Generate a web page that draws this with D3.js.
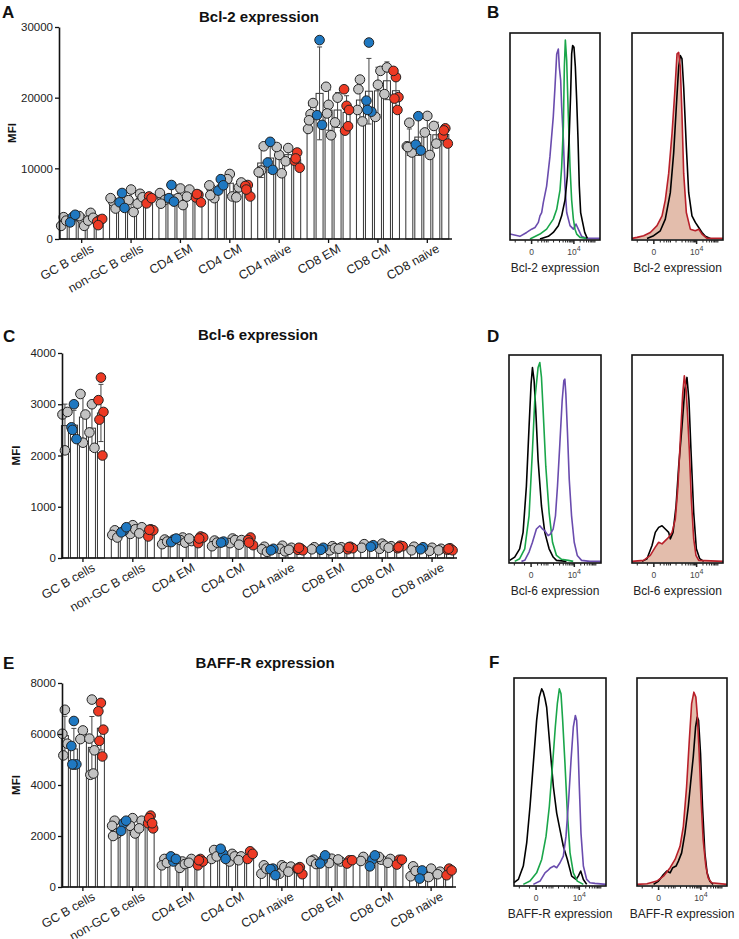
<!DOCTYPE html>
<html><head><meta charset="utf-8">
<script src="https://cdn.jsdelivr.net/npm/d3@7"></script>
<style>
body{margin:0;background:#fff;}
text{font-family:"Liberation Sans",Arial,sans-serif;}
</style></head>
<body>
<svg id="fig" width="739" height="939"></svg>
<script>
// ---------------- DATA ----------------
const categories = ["GC B cells","non-GC B cells","CD4 EM","CD4 CM","CD4 naive","CD8 EM","CD8 CM","CD8 naive"];
const groupKeys = ["ctrl1","groupBlue","ctrl2","ctrl3","groupRed"];

// per category: [ctrl1, groupBlue, ctrl2, ctrl3, groupRed] individual MFI values
const bcl2Values = [
  [[3090,1860,2600],[3090,2350,3430],[2840,3240,1860],[3700,2600,3000],[2700,2450,2840,1960]],
  [[5290,5780,4310],[6510,5190,4400],[7000,5500,3820],[6400,5000,5900],[6020,5040,5780]],
  [[5780,6500,5530,5000],[7640,5780,5290],[7150,5780,4800],[7000,6000],[6260,5870,5190,6360]],
  [[7000,7590,5780,6200],[8470,6850,7600],[9200,8470,6020],[7300,5900,8000],[7640,7500,6020,7000]],
  [[9690,9450,13120],[13750,10820,9790],[11890,13020,9300],[12870,11000],[12240,11060,10080,11400]],
  [[17670,15570,19240,16800],[28150,17520,16150],[18990,21540,14680,17770],[20000,16500],[18850,21190,18260,15330,15960]],
  [[22560,18260,16640,21190],[27800,19580,18010,18260],[21830,17280,23790],[24280,20500],[22910,23790,20070,19870,18260]],
  [[16450,13120,12240,13000],[17380,13360,12530],[17420,15080,11890],[13500,16000],[15660,14590,13510,15370]]
];
const bcl6Values = [
  [[2100,2800,2850],[3000,2550,2320,2500],[2250,3200,2800],[3000,2450,2150],[3520,3080,2850,2700,2000]],
  [[540,450,400],[530,500,600],[640,470,560],[600,480],[560,420,540,550]],
  [[360,270,320],[360,310,380],[400,350,300],[330,380],[420,290,400,380]],
  [[340,230,300],[320,300],[380,290,350],[350,260],[400,350,250,300]],
  [[220,170,120],[180,150],[240,180,130],[200,160],[190,160,150,200]],
  [[210,170],[200,160],[230,150,190],[210,180],[220,170,190,210]],
  [[270,200],[250,220],[280,180,240],[230,200],[240,190,230,210]],
  [[220,150],[210,170],[200,140],[180,150],[190,160,150,180]]
];
const baffrValues = [
  [[6950,6010,5620,5160],[6510,5530,4810,4810],[6140,5800],[7350,5820,5360,4400,4450],[7220,6890,6170,5730,5120]],
  [[2600,2400,2100,2000],[2500,2200,2600],[2700,2400,2100],[2600,2300],[2800,2500,2300,2700,2500]],
  [[1100,850,950],[1000,1200,1100],[1000,750,900],[1100,950],[1100,850,1000,1050]],
  [[1450,1100,1200],[1300,1500,1100],[1300,1000,1200],[1200,1050],[1400,1100,1300]],
  [[850,520,720],[720,700,460],[850,520,780],[800,600],[780,720,500,720]],
  [[1070,1020,900],[1050,920,1240],[1110,940],[1000,1080],[1050,920,1050]],
  [[1180,1020],[1070,810,1240],[1070,1180],[1100,950],[1070,880,1070]],
  [[810,420,630],[650,330],[720,390],[600,500],[720,460,650]]
];
const bcl2Ticks = [0,10000,20000,30000];
const bcl6Ticks = [0,1000,2000,3000,4000];
const baffrTicks = [0,2000,4000,6000,8000];

// flow histograms: [display position (0-100), % of mode]
const histMajorTicks = [{v:24,label:"0"},{v:71,label:"10",sup:"4"}];
const histMinorTicks = [5.8,16.9,31.1,35.2,38.1,40.4,42.3,48.4,55.0,59.0,61.8,64.0,65.9,67.4,68.7,69.9,78.0,82.1,85.0,87.3,89.2,90.7,92.1,93.3,94.4];

const bcl2Purple = [[0,2.4],[11,1.3],[18.5,3.2],[24,4.8],[27.8,5.6],[31.5,8.1],[33.3,11.3],[35.2,12.9],[37,17.7],[40.7,25.8],[44.4,40.3],[48.1,59.7],[50,74.2],[51.9,90.3],[53.7,92.7],[54.8,83.9],[56.3,77.4],[57.4,64.5],[59.3,48.4],[61.1,25.8],[63,12.9],[66.7,6.5],[70.4,4.8],[73.3,7.3],[75.9,4.8],[79.6,1.3],[85.2,0.3],[100,0.3]];
const bcl2Green = [[22.2,0],[33.3,2.4],[40.7,4.8],[48.1,9.7],[51.9,14.5],[55.6,24],[57.4,35],[59.3,55],[60.4,84],[61.5,97],[63,87],[64.8,60],[66.7,35],[68.5,19],[70.4,9.7],[72.2,4.8],[74.1,2.4],[77.8,0.8],[85.2,0.3]];
const bcl2Black = [[33.3,0],[42.6,1.3],[48.1,3.2],[53.7,6.5],[57.4,11.3],[61.1,19],[63.7,30.6],[65.9,51.6],[67.4,71],[68.5,90.3],[69.6,94.4],[71.1,93.5],[72.6,84],[74.1,67.7],[75.6,48.4],[77,25.8],[78.5,12.9],[80.7,8.1],[83,3.2],[85.9,0.3]];
const bcl2Red = [[0,0.3],[5.5,0.8],[12.8,1.6],[20.1,3.2],[27.5,6.5],[33,11.3],[36.6,19],[40.3,32],[44,51.6],[46.9,71],[49.5,90.3],[51.3,91],[53.1,84],[54.9,61],[56.8,32],[59.7,12.9],[64.1,4.8],[69.6,4],[73.3,4.8],[76.9,2.4],[82.4,0.3],[100,0.3]];
const bcl2BlackB = [[16.5,0.3],[23.8,1.6],[31.1,4],[36.6,9.7],[42.1,22.6],[45.8,42],[48.7,64.5],[51.3,84],[53.1,89.5],[54.9,88],[56.8,74],[59.7,45],[62.3,22.6],[65.9,11.3],[69.6,8.1],[73.3,5.6],[76.9,3.2],[80.6,1.3],[86.1,0.3]];

const bcl6Black = [[0.7,0.8],[6.2,2.4],[11.6,6.4],[15.3,14.4],[18.9,36.8],[21.8,65.6],[24,86.4],[25.5,94.4],[27.3,88],[29.1,73.6],[31.6,49.6],[35.3,27.2],[38.9,14.4],[43.6,6.4],[48,2.4],[51.6,0.8],[62.5,0.3]];
const bcl6Green = [[6.2,0.3],[11.6,1.6],[17.1,6.4],[21.8,22.4],[25.5,54.4],[28,78.4],[31.6,94.4],[33.5,96.8],[35.3,89.6],[37.1,73.6],[40,46.4],[43.6,24],[47.3,9.6],[51.6,3.2],[57.1,1.3],[64.4,0.8],[69.8,0.3]];
const bcl6Purple = [[13.5,0.3],[17.1,0.8],[21.8,4.8],[25.5,9.6],[29.8,16],[33.5,17.6],[36.4,16],[38.9,15.2],[42.5,12.8],[45.1,13.6],[48,16],[50.5,22.4],[52.7,36.8],[55.3,57.6],[57.8,78.4],[59.6,88],[60.7,88.8],[61.8,81.6],[63.6,62.4],[65.5,40],[68,22.4],[70.9,9.6],[74.2,3.2],[78.9,0.8],[88,0.3],[100,0.3]];
const bcl6Red = [[0,0.3],[12.8,0.8],[20.1,3.2],[25.6,7.2],[29.3,9.6],[33,8.8],[36.6,10.4],[40.3,12],[44,14.4],[47.6,20.8],[50.5,36.8],[53.1,59.2],[55.7,81.6],[57.5,90.4],[59.3,84.8],[61.2,70.4],[63,54.4],[65.2,30.4],[67.8,11.2],[70.3,3.2],[73.3,0.8],[100,0.3]];
const bcl6BlackB = [[11,0.3],[16.5,1.6],[22,8],[25.6,14.4],[29.3,16.8],[33,17.6],[36.6,16],[40.3,14.4],[42.1,11.2],[45.1,14.4],[48.4,27.2],[51.3,46.4],[54.9,65.6],[57.9,83.2],[60.4,89.6],[62.6,78.4],[64.8,54.4],[67.8,24],[70.7,6.4],[74.4,1.6],[78.8,0.3]];

const baffrBlack = [[0,1.1],[4.7,2.7],[10.1,9.2],[13.8,20.4],[17.4,38.1],[21,59],[24.6,79.9],[27.5,91.2],[30.1,95.2],[31.9,93.6],[33.7,90.4],[35.5,86.3],[39.1,67],[42.8,47.7],[46.4,34.9],[50,26.8],[53.6,18.8],[58,12.4],[62.7,4.3],[65.2,3.5],[67.4,2.7],[69.9,4.3],[72.5,6.8],[75.4,2.7],[79,0.3]];
const baffrGreen = [[10.1,0.3],[17.4,1.9],[24.6,5.9],[30.1,12.4],[34.8,23.6],[38.4,38.1],[42,59],[44.9,76.7],[47.1,88],[49.3,95.2],[51.1,92.8],[52.9,79.9],[55.4,59],[58,34.9],[60.9,15.6],[64.5,5.9],[68.8,1.9],[75.4,0.3]];
const baffrPurple = [[21,0.3],[28.3,1.9],[33.7,5.9],[36.2,6.8],[39.9,8.4],[43.5,9.2],[46.4,8.4],[50,10.8],[53.6,14],[56.5,23.6],[59.4,41.3],[62,60.6],[64.5,76.7],[66.7,82.3],[68.1,79.9],[69.6,67],[71,47.7],[72.8,25.2],[75.4,9.2],[79,2.7],[82.6,1.1],[88,0.8],[100,0.3]];
const baffrRed = [[0,0.3],[11,0.6],[22.1,1.9],[29.4,4.3],[36.8,8.4],[42.3,12.4],[47.8,18.8],[51.5,28.5],[55.1,47.7],[58.1,70.1],[60.7,88],[63.2,93.6],[65.4,91.2],[66.9,83.1],[69.1,63.8],[71,42.9],[73.5,22],[76.5,9.2],[79,3.5],[82.7,1.1],[100,0.3]];
const baffrBlackB = [[18.4,0.3],[23.9,1.9],[29.4,5.1],[33.1,6.8],[36.8,5.9],[39.7,8.4],[43.4,9.2],[46,11.6],[49.6,15.6],[53.3,25.2],[57,38.1],[59.9,51],[62.5,62.2],[65.1,76.7],[66.9,81.5],[68.4,79.9],[70.6,63.8],[72.8,38.1],[75.4,15.6],[77.9,5.9],[80.9,1.9],[84.6,0.3]];

// ---------------- DRAWING ----------------
const svg = d3.select("#fig");
const FONT = '"Liberation Sans",Arial,sans-serif';
const groupColor = {ctrl1:"#c3c3c3",groupBlue:"#1f78c1",ctrl2:"#c3c3c3",ctrl3:"#c3c3c3",groupRed:"#ee3a24"};
const colOffset = d3.scalePoint().domain(groupKeys).range([-18,18]);
const jitter = [0,-2.5,2.5,-1.5,1.5];

function letter(t,x,y){
  svg.append("text").attr("x",x).attr("y",y).attr("font-size",17).attr("font-weight","bold").attr("fill","#111").text(t);
}

function barPanel(o){
  const g = svg.append("g");
  const x = d3.scaleBand().domain(categories).range(o.band);
  const y = d3.scaleLinear().domain([0,o.yMax]).range([o.y0,o.y1]);
  g.append("text").attr("x",o.titleX).attr("y",o.titleY).attr("text-anchor","middle")
    .attr("font-size",15).attr("font-weight","bold").attr("fill","#111").text(o.title);
  g.append("text").attr("transform",`translate(${o.mfiX},${(o.y0+o.y1)/2}) rotate(-90)`)
    .attr("text-anchor","middle").attr("font-size",11.5).attr("font-weight","bold").attr("fill","#111").text("MFI");
  const cols = [];
  o.values.forEach((cat,ci)=>{
    cat.forEach((vals,gi)=>{
      const key = groupKeys[gi];
      const cx = x(categories[ci]) + x.bandwidth()/2 + colOffset(key);
      cols.push({cx, key, vals, mean:d3.mean(vals), sd: vals.length>1? d3.deviation(vals):0});
    });
  });
  g.selectAll("rect.bar").data(cols).join("rect").attr("class","bar")
    .attr("x",d=>d.cx-3.5).attr("width",7)
    .attr("y",d=>y(d.mean)).attr("height",d=>o.y0-y(d.mean))
    .attr("fill","#fff").attr("stroke","#333").attr("stroke-width",1);
  const eb = g.selectAll("g.eb").data(cols).join("g").attr("class","eb").attr("stroke","#444").attr("stroke-width",1);
  eb.append("line").attr("x1",d=>d.cx).attr("x2",d=>d.cx).attr("y1",d=>y(Math.max(0,d.mean-d.sd))).attr("y2",d=>y(d.mean+d.sd));
  eb.append("line").attr("x1",d=>d.cx-2.5).attr("x2",d=>d.cx+2.5).attr("y1",d=>y(d.mean+d.sd)).attr("y2",d=>y(d.mean+d.sd));
  eb.append("line").attr("x1",d=>d.cx-2.5).attr("x2",d=>d.cx+2.5).attr("y1",d=>y(Math.max(0,d.mean-d.sd))).attr("y2",d=>y(Math.max(0,d.mean-d.sd)));
  const dots = [];
  cols.forEach(c=>c.vals.forEach((v,i)=>dots.push({x:c.cx+jitter[i%jitter.length], v, key:c.key})));
  dots.sort((a,b)=> (a.key.startsWith("ctrl")?0:1)-(b.key.startsWith("ctrl")?0:1));
  g.selectAll("circle.dot").data(dots).join("circle").attr("class","dot")
    .attr("cx",d=>d.x).attr("cy",d=>y(d.v)).attr("r",4.8)
    .attr("fill",d=>groupColor[d.key]).attr("stroke","#222").attr("stroke-width",1);
  const ya = g.append("g").attr("transform",`translate(${o.axisX},0)`)
    .call(d3.axisLeft(y).tickValues(o.ticks).tickSize(4).tickSizeOuter(0).tickFormat(d3.format("d")));
  ya.select(".domain").attr("stroke","#111").attr("stroke-width",1.6);
  ya.selectAll(".tick line").attr("stroke","#111").attr("stroke-width",1.3);
  ya.selectAll("text").attr("font-size",11.5).attr("font-family",FONT).attr("fill","#222").attr("x",-6);
  const xa = g.append("g").attr("transform",`translate(0,${o.y0})`)
    .call(d3.axisBottom(x).tickSize(4).tickSizeOuter(0));
  xa.select(".domain").attr("d",`M${o.axisX},0H${o.band[1]}`).attr("stroke","#111").attr("stroke-width",1.6);
  xa.selectAll(".tick line").attr("stroke","#111").attr("stroke-width",1.3);
  xa.selectAll("text").attr("font-size",12.5).attr("font-family",FONT).attr("fill","#222")
    .attr("text-anchor","end").attr("y",0).attr("dy",0).attr("transform","translate(13,12) rotate(-30)");
}

function histBox(box, curves, fillCurve, label){
  const g = svg.append("g");
  const x = d3.scaleLinear().domain([0,100]).range([box.x0, box.x1]);
  const y = d3.scaleLinear().domain([0,100]).range([box.y1-1, box.y0+1]);
  const line = d3.line().x(d=>x(d[0])).y(d=>y(d[1])).curve(d3.curveLinear);
  if(fillCurve){
    const area = d3.area().x(d=>x(d[0])).y0(y(0)).y1(d=>y(d[1]));
    g.append("path").attr("d",area(fillCurve)).attr("fill","#e3bdac");
  }
  curves.forEach(c=>{
    g.append("path").attr("d",line(c.data)).attr("fill","none").attr("stroke",c.color).attr("stroke-width",1.6).attr("stroke-linejoin","round");
  });
  g.append("rect").attr("x",box.x0).attr("y",box.y0).attr("width",box.x1-box.x0).attr("height",box.y1-box.y0)
    .attr("fill","none").attr("stroke","#111").attr("stroke-width",1.6);
  g.selectAll("line.mn").data(histMinorTicks).join("line").attr("class","mn")
    .attr("x1",d=>x(d)).attr("x2",d=>x(d)).attr("y1",box.y1).attr("y2",box.y1+2.5).attr("stroke","#222").attr("stroke-width",1);
  g.selectAll("line.mj").data(histMajorTicks).join("line").attr("class","mj")
    .attr("x1",d=>x(d.v)).attr("x2",d=>x(d.v)).attr("y1",box.y1).attr("y2",box.y1+4).attr("stroke","#222").attr("stroke-width",1.5);
  const tl = g.selectAll("text.tl").data(histMajorTicks).join("text").attr("class","tl")
    .attr("x",d=>x(d.v)).attr("y",box.y1+15).attr("text-anchor","middle").attr("font-size",8.5).attr("fill","#444");
  tl.append("tspan").text(d=>d.label);
  tl.filter(d=>d.sup).append("tspan").attr("dy",-4).attr("font-size",7).text(d=>d.sup);
  g.append("text").attr("x",(box.x0+box.x1)/2).attr("y",box.y1+32).attr("text-anchor","middle")
    .attr("font-size",12).attr("fill","#222").text(label);
}

letter("A",2,18);
barPanel({values:bcl2Values,yMax:30000,ticks:bcl2Ticks,y0:239,y1:27,band:[57,452],axisX:59,
  title:"Bcl-2 expression",titleX:259,titleY:22,mfiX:16});
letter("C",3,342);
barPanel({values:bcl6Values,yMax:4000,ticks:bcl6Ticks,y0:558,y1:353,band:[58,457],axisX:62,
  title:"Bcl-6 expression",titleX:258,titleY:340,mfiX:20});
letter("E",3,669);
barPanel({values:baffrValues,yMax:8000,ticks:baffrTicks,y0:887,y1:683,band:[58,456],axisX:62,
  title:"BAFF-R expression",titleX:265,titleY:668,mfiX:20});

letter("B",487,18);
histBox({x0:510,x1:600,y0:33,y1:240},[{data:bcl2Purple,color:"#6a4cae"},{data:bcl2Green,color:"#1aa64a"},{data:bcl2Black,color:"#000"}],null,"Bcl-2 expression");
histBox({x0:632,x1:723,y0:33,y1:240},[{data:bcl2BlackB,color:"#000"},{data:bcl2Red,color:"#b8202a"}],bcl2Red,"Bcl-2 expression");
letter("D",487,342);
histBox({x0:509,x1:601,y0:355,y1:563},[{data:bcl6Black,color:"#000"},{data:bcl6Green,color:"#1aa64a"},{data:bcl6Purple,color:"#6a4cae"}],null,"Bcl-6 expression");
histBox({x0:632,x1:723,y0:355,y1:563},[{data:bcl6BlackB,color:"#000"},{data:bcl6Red,color:"#b8202a"}],bcl6Red,"Bcl-6 expression");
letter("F",489,668);
histBox({x0:514,x1:606,y0:678,y1:886},[{data:baffrBlack,color:"#000"},{data:baffrGreen,color:"#1aa64a"},{data:baffrPurple,color:"#6a4cae"}],null,"BAFF-R expression");
histBox({x0:637,x1:727,y0:678,y1:886},[{data:baffrBlackB,color:"#000"},{data:baffrRed,color:"#b8202a"}],baffrRed,"BAFF-R expression");
</script>
</body></html>
